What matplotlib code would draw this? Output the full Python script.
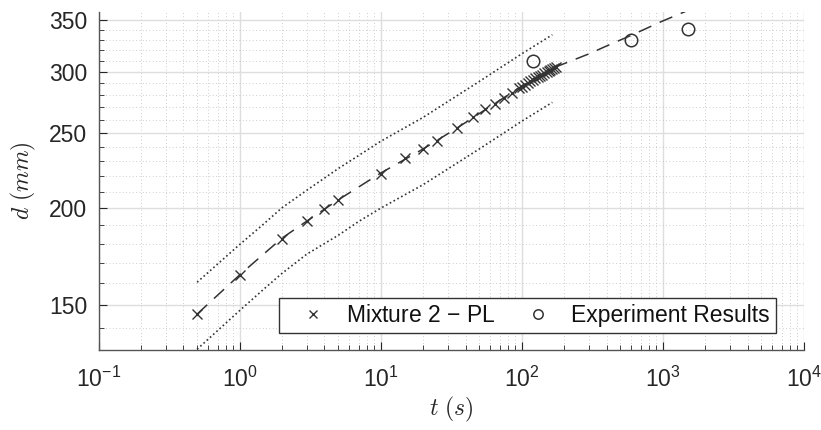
import numpy as np
import matplotlib
matplotlib.use("Agg")
import matplotlib.pyplot as plt
from matplotlib.ticker import FixedLocator, NullFormatter, LogLocator, FuncFormatter

# Mixture 2 - PL (crosses)
t_pl = [0.5, 1, 2, 3, 4, 5, 10, 15, 20, 25, 35, 45, 55, 65, 75, 85, 95,
        100, 105, 110, 115, 120, 125, 130, 135, 140, 145, 150, 155, 160, 165, 170, 175]
d_pl = [145.9, 163.8, 182.7, 192.3, 199.3, 204.7, 221.4, 232.0, 238.4, 244.6, 254.2, 262.0,
        268.4, 272.7, 277.3, 281.5, 285.7,
        287.2, 288.8, 290.2, 291.6, 292.9, 294.2, 295.4, 296.5, 297.6, 298.7, 299.8,
        300.8, 301.8, 302.8, 303.8, 304.7]

# experiment results (circles)
t_exp = [120, 600, 1500]
d_exp = [309.7, 330.3, 340.3]

# fitted curve (dashed)
t_fit = [0.5, 1, 2, 3, 5, 10, 20, 35, 50, 100, 130, 175, 215, 300, 400, 600, 1000, 1450]
d_fit = [146.0, 164.0, 183.0, 192.5, 205.0, 222.0, 238.5, 254.0, 265.0, 287.5, 295.5,
         304.5, 309.0, 316.5, 324.0, 334.5, 349.0, 359.0]

# bounds (dotted)
t_band = [0.5, 1, 1.5, 2, 3, 5, 7, 10, 20, 50, 100, 165]
d_upper = [160.5, 179.5, 191.2, 200.3, 211.0, 225.0, 234.0, 244.0, 262.0, 291.5, 316.5, 335.0]
d_lower = [131.5, 147.5, 157.5, 164.8, 174.5, 184.5, 192.3, 200.0, 214.5, 238.5, 259.0, 274.0]

plt.rcParams['font.family'] = ['Liberation Sans', 'DejaVu Sans']
plt.rcParams['mathtext.fontset'] = 'custom'
plt.rcParams['mathtext.rm'] = 'Liberation Sans'
plt.rcParams['mathtext.it'] = 'Liberation Sans:italic'

txt = '#262626'
ink = '#333333'

fig = plt.figure(figsize=(8.21, 4.30), dpi=100)
ax = fig.add_axes([0.120, 0.186, 0.859, 0.786])
ax.set_xscale('log')
ax.set_yscale('log')

ax.plot(t_band, d_upper, color=ink, lw=1.2, linestyle=(0, (1, 1.6)))
ax.plot(t_band, d_lower, color=ink, lw=1.2, linestyle=(0, (1, 1.6)))
ax.plot(t_fit, d_fit, color=ink, lw=1.1, linestyle=(0, (9, 6)))
ax.plot(t_pl, d_pl, linestyle='none', marker='x', ms=7.5, mew=1.0, color=ink,
        label='Mixture 2 $-$ PL')
ax.plot(t_exp, d_exp, linestyle='none', marker='o', ms=9, mew=1.1, mfc='none', mec=ink,
        label='Experiment Results')

ax.set_xlim(0.1, 1e4)
ax.set_ylim(131.2, 358.4)

ax.xaxis.set_major_locator(LogLocator(base=10, numticks=10))
ax.xaxis.set_minor_locator(LogLocator(base=10, subs=np.arange(2, 10), numticks=20))
ax.xaxis.set_major_formatter(FuncFormatter(lambda v, p: r'$\mathregular{10^{%d}}$' % round(np.log10(v))))
ax.xaxis.set_minor_formatter(NullFormatter())

ax.yaxis.set_major_locator(FixedLocator([150, 200, 250, 300, 350]))
ax.yaxis.set_minor_locator(FixedLocator(list(range(140, 360, 10))))
ax.yaxis.set_major_formatter(FuncFormatter(lambda v, p: '%d' % v))
ax.yaxis.set_minor_formatter(NullFormatter())

ax.tick_params(which='both', direction='in', colors=txt, labelsize=16.5, top=False, right=False)
ax.tick_params(which='major', length=6, width=0.8, pad=8)
ax.tick_params(which='minor', length=3.5, width=0.6)
ax.tick_params(axis='x', which='major', pad=12)

ax.grid(which='major', color='#dedede', lw=1.0, linestyle='-')
ax.grid(which='minor', color='#bdbdbd', lw=0.6, linestyle=(0, (1, 3)))
ax.set_axisbelow(True)

for s in ['top', 'right']:
    ax.spines[s].set_visible(False)
for s in ['left', 'bottom']:
    ax.spines[s].set_color('#555555')
    ax.spines[s].set_linewidth(1.0)

ax.set_xlabel(r'$t\ (s)$', fontsize=17, color=txt, math_fontfamily='cm', labelpad=2)
ax.set_ylabel(r'$d\ (mm)$', fontsize=17, color=txt, math_fontfamily='cm', labelpad=8)

leg = ax.legend(loc='lower right', bbox_to_anchor=(0.961, 0.050), ncol=2, fontsize=16.5,
                frameon=True, fancybox=False, markerscale=0.75, handlelength=2.4,
                handletextpad=0.28, columnspacing=0.62, borderpad=0.27, borderaxespad=0)
leg.get_frame().set_edgecolor('#333333')
leg.get_frame().set_linewidth(1.0)
leg.get_frame().set_alpha(1)
for text in leg.get_texts():
    text.set_color('#111111')

fig.savefig('out.png', dpi=100)
